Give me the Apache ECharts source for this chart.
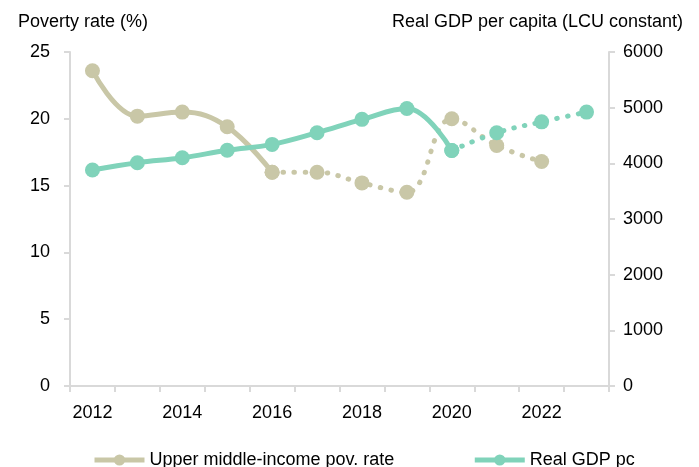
<!DOCTYPE html>
<html lang="en">
<head>
<meta charset="UTF-8">
<title>Poverty rate and real GDP per capita</title>
<script src="https://cdn.jsdelivr.net/npm/echarts@6/dist/echarts.min.js"></script>
<style>
  html, body { margin: 0; padding: 0; background: #fff; }
  #chart { width: 699px; height: 467px; }
</style>
</head>
<body>
<div id="chart"></div>
<script>
var years = ['2012', '2013', '2014', '2015', '2016', '2017', '2018', '2019', '2020', '2021', '2022', '2023'];

// poverty rate, %: solid part is observed, dotted part is nowcast
var povSolid  = [23.6, 20.2, 20.5, 19.4, 16.0, null, null, null, null, null, null, null];
var povDotted = [null, null, null, null, 16.0, 16.0, 15.2, 14.5, 20.0, 18.0, 16.8, null];

// real GDP per capita, LCU constant
var gdpSolid  = [3880, 4010, 4100, 4235, 4340, 4550, 4790, 4985, 4230, null, null, null];
var gdpDotted = [null, null, null, null, null, null, null, null, 4230, 4550, 4745, 4920];

var povName = 'Upper middle-income pov. rate';
var gdpName = 'Real GDP pc';
var povColor = '#c9c7a7';
var gdpColor = '#80d3ba';
var axisGrey = '#d9d9d9';
var font = 'Liberation Sans';

function lineSeries(name, data, color, axis, dotted) {
    return {
        name: name,
        type: 'line',
        yAxisIndex: axis,
        data: data,
        smooth: 0.4,
        symbol: 'circle',
        symbolSize: 15,
        showAllSymbol: true,
        itemStyle: { color: color },
        lineStyle: dotted
            ? { color: color, width: 5, type: [0.5, 10.5], cap: 'round' }
            : { color: color, width: 5 },
        emphasis: { disabled: true },
        animation: false
    };
}

var myChart = echarts.init(document.getElementById('chart'));
myChart.setOption({
    textStyle: { fontFamily: font, color: '#000' },
    title: [
        { text: 'Poverty rate (%)', left: 18, top: 13, padding: 0,
          textStyle: { fontFamily: font, fontSize: 18, fontWeight: 'normal', color: '#000' } },
        { text: 'Real GDP per capita (LCU constant)', right: 16, top: 13, padding: 0,
          textStyle: { fontFamily: font, fontSize: 18, fontWeight: 'normal', color: '#000' } }
    ],
    grid: { left: 70, right: 90, top: 52, bottom: 81 },
    legend: {
        data: [povName, gdpName],
        left: 92,
        top: 451,
        padding: 0,
        itemWidth: 50,
        itemHeight: 14,
        itemGap: 78,
        lineStyle: { width: 5, type: 'solid' },
        textStyle: { fontFamily: font, fontSize: 18, color: '#000' }
    },
    xAxis: {
        type: 'category',
        data: years,
        boundaryGap: true,
        axisLine: { lineStyle: { color: axisGrey, width: 2 } },
        axisTick: { show: true, interval: 0, length: 6, lineStyle: { color: axisGrey, width: 2 } },
        axisLabel: { interval: 1, margin: 18, fontSize: 18, color: '#000', fontFamily: font },
        splitLine: { show: false }
    },
    yAxis: [
        {
            type: 'value', min: 0, max: 25, interval: 5, position: 'left',
            axisLine: { show: true, lineStyle: { color: axisGrey, width: 2 } },
            axisTick: { show: true, length: 6, lineStyle: { color: axisGrey, width: 2 } },
            axisLabel: { margin: 20, fontSize: 18, color: '#000', fontFamily: font },
            splitLine: { show: false }
        },
        {
            type: 'value', min: 0, max: 6000, interval: 1000, position: 'right',
            axisLine: { show: true, lineStyle: { color: axisGrey, width: 2 } },
            axisTick: { show: true, length: 6, lineStyle: { color: axisGrey, width: 2 } },
            axisLabel: { margin: 14, fontSize: 18, color: '#000', fontFamily: font,
                         formatter: function (v) { return String(v); } },
            splitLine: { show: false }
        }
    ],
    series: [
        lineSeries(povName, povSolid, povColor, 0, false),
        lineSeries(povName, povDotted, povColor, 0, true),
        lineSeries(gdpName, gdpSolid, gdpColor, 1, false),
        lineSeries(gdpName, gdpDotted, gdpColor, 1, true)
    ]
});
</script>
</body>
</html>
